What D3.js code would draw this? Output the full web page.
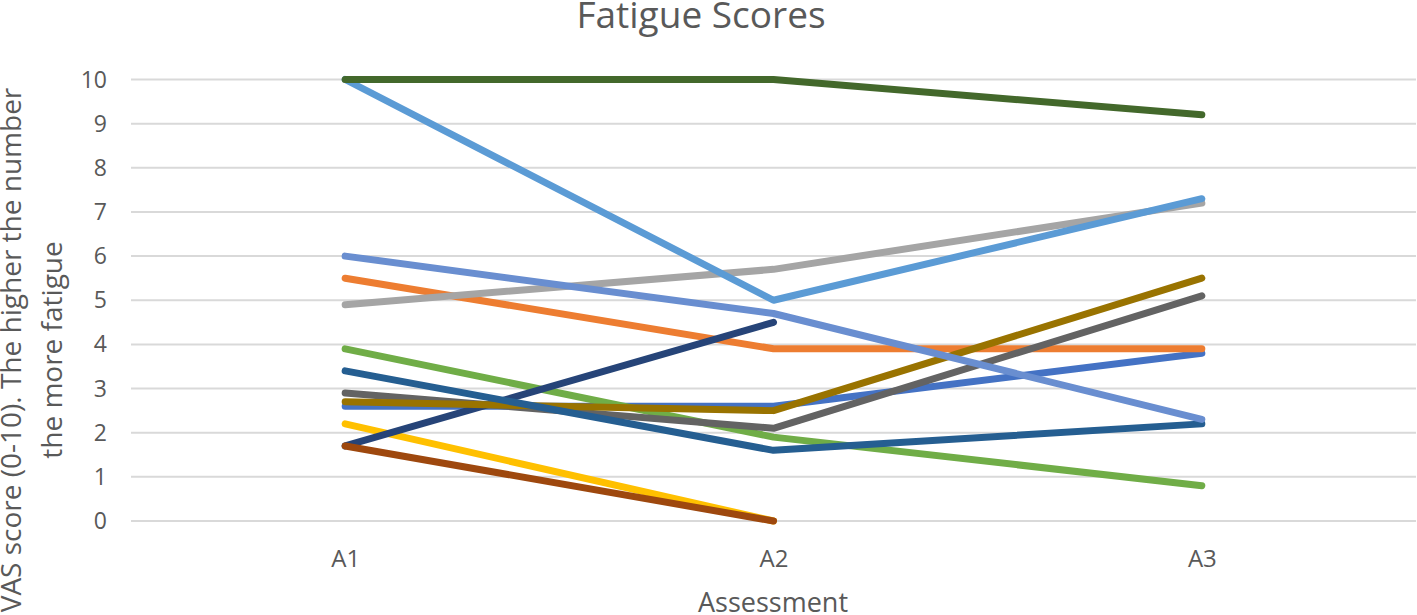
<!DOCTYPE html>
<html>
<head>
<meta charset="utf-8">
<script src="https://cdn.jsdelivr.net/npm/d3@7"></script>
<style>
  html, body { margin: 0; padding: 0; background: #fff; }
  svg { display: block; }
  text { font-family: "Open Sans", Lato, sans-serif; fill: #595959; }
</style>
</head>
<body>
<svg id="chart" width="1417" height="615"></svg>
<script>
const categories = ["A1", "A2", "A3"];
const yTicks = [0, 1, 2, 3, 4, 5, 6, 7, 8, 9, 10];
const s1 = [2.6, 2.6, 3.8];
const s2 = [5.5, 3.9, 3.9];
const s3 = [4.9, 5.7, 7.2];
const s4 = [2.2, 0.0, null];
const s5 = [10, 5.0, 7.3];
const s6 = [3.9, 1.9, 0.8];
const s7 = [1.7, 4.5, null];
const s8 = [1.7, 0.0, null];
const s9 = [2.9, 2.1, 5.1];
const s10 = [2.7, 2.5, 5.5];
const s11 = [3.4, 1.6, 2.2];
const s12 = [10, 10, 9.2];
const s13 = [6.0, 4.7, 2.3];
const seriesValues = [s1, s2, s3, s4, s5, s6, s7, s8, s9, s10, s11, s12, s13];
const seriesColors = ["#4472C4", "#ED7D31", "#A5A5A5", "#FFC000", "#5B9BD5", "#70AD47",
  "#264478", "#9E480E", "#636363", "#997300", "#255E91", "#43682B", "#698ED0"];

const svg = d3.select("#chart");
const x = d3.scalePoint().domain(categories).range([131, 1416]).padding(0.5);
const y = d3.scaleLinear().domain([0, 10]).range([521, 79.5]);

// gridlines
svg.append("g").selectAll("line").data(yTicks).join("line")
  .attr("x1", 131).attr("x2", 1416)
  .attr("y1", d => y(d)).attr("y2", d => y(d))
  .attr("stroke", "#D9D9D9").attr("stroke-width", 2);

// y axis labels
const yAxis = d3.axisLeft(y).tickValues(yTicks).tickSize(0).tickPadding(0);
const gy = svg.append("g").attr("transform", "translate(107,0)").call(yAxis);
gy.select(".domain").remove();
gy.selectAll("text").style("font-size", "23px").attr("fill", "#595959")
  .attr("dy", "0.33em")
  .style("font-family", "'Open Sans', sans-serif");

// x axis labels
const xAxis = d3.axisBottom(x).tickSize(0).tickPadding(0);
const gx = svg.append("g").attr("transform", "translate(0,0)").call(xAxis);
gx.select(".domain").remove();
gx.selectAll("text").style("font-size", "24px").attr("fill", "#595959")
  .attr("y", 567).attr("dy", 0)
  .style("font-family", "'Open Sans', sans-serif");

// lines
const line = d3.line()
  .defined(d => d.v !== null)
  .x(d => x(d.c)).y(d => y(d.v));
seriesValues.forEach((vals, i) => {
  const pts = vals.map((v, j) => ({ c: categories[j], v }));
  svg.append("path").datum(pts)
    .attr("d", line)
    .attr("fill", "none")
    .attr("stroke", seriesColors[i])
    .attr("stroke-width", 7)
    .attr("stroke-linecap", "round")
    .attr("stroke-linejoin", "round");
});

// title
svg.append("text").attr("x", 701).attr("y", 28)
  .attr("text-anchor", "middle").style("font-size", "37px")
  .text("Fatigue Scores");

// x axis title
svg.append("text").attr("x", 773).attr("y", 612)
  .attr("text-anchor", "middle").style("font-size", "27px")
  .text("Assessment");

// y axis title
const yt = svg.append("text")
  .attr("transform", "translate(0,350) rotate(-90)")
  .attr("text-anchor", "middle").style("font-size", "28px");
yt.append("tspan").attr("x", 0).attr("y", 21).text("VAS score (0-10). The higher the number");
yt.append("tspan").attr("x", 0).attr("y", 62).text("the more fatigue");
</script>
</body>
</html>
